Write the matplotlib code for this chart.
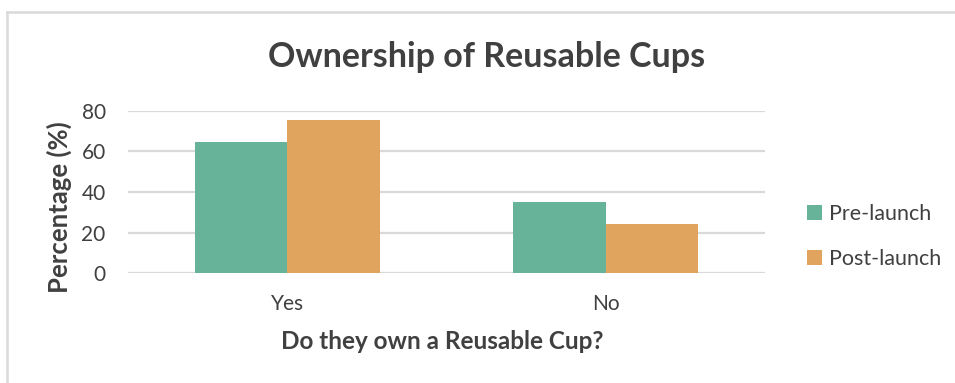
import matplotlib
matplotlib.use("Agg")
import matplotlib.pyplot as plt
from matplotlib.lines import Line2D
import numpy as np

# Survey results
categories = ["Yes", "No"]
pre_launch = [64.8, 35.2]
post_launch = [75.6, 24.4]
series_names = ["Pre-launch", "Post-launch"]
y_ticks = [0, 20, 40, 60, 80]

GREEN = "#67B39A"
ORANGE = "#E0A45E"
TEXT = "#404040"
GRID = "#D9D9D9"

plt.rcParams["font.family"] = ["Lato", "DejaVu Sans"]

fig = plt.figure(figsize=(9.55, 3.83), dpi=100)
ax = fig.add_axes([0.134, 0.2864, 0.667, 0.4246])

x = np.arange(len(categories))
w = 0.29
b1 = ax.bar(x - w / 2, pre_launch, w, color=GREEN, label=series_names[0], zorder=3)
b2 = ax.bar(x + w / 2, post_launch, w, color=ORANGE, label=series_names[1], zorder=3)

ax.set_xlim(-0.5, 1.5)
ax.set_ylim(0, 80)
ax.set_yticks(y_ticks)
ax.set_xticks(x)
ax.set_xticklabels(categories)
ax.yaxis.grid(True, color=GRID, linewidth=1.6, zorder=0)
ax.set_axisbelow(True)
for s in ax.spines.values():
    s.set_visible(False)
ax.tick_params(axis="both", length=0, labelsize=15, labelcolor=TEXT)
ax.tick_params(axis="y", pad=16)
ax.tick_params(axis="x", pad=15)

ax.set_ylabel("Percentage (%)", fontsize=18.5, fontweight="bold", color=TEXT)
ax.set_xlabel("Do they own a Reusable Cup?", fontsize=17.5, fontweight="bold", color=TEXT,
              va="center")
ax.yaxis.set_label_coords(-0.088, 0.41)
ax.xaxis.set_label_coords(0.494, -0.42)

fig.text(0.51, 0.852, "Ownership of Reusable Cups", ha="center", va="center",
         fontsize=24.5, fontweight="bold", color=TEXT)

leg = fig.legend(handles=[b1, b2], labels=series_names, loc="center left",
                 bbox_to_anchor=(0.845, 0.383), frameon=False, fontsize=15.5,
                 labelcolor=TEXT, handlelength=0.7, handleheight=0.7,
                 handletextpad=0.3, labelspacing=1.15, borderpad=0, borderaxespad=0)

# chart-area border (top and left edges)
fig.add_artist(Line2D([0.0073, 1.0], [0.969, 0.969], color=GRID, linewidth=1.8,
                      transform=fig.transFigure))
fig.add_artist(Line2D([0.0073, 0.0073], [0.0, 0.969], color=GRID, linewidth=1.8,
                      transform=fig.transFigure))

fig.savefig("out.png", dpi=100)
